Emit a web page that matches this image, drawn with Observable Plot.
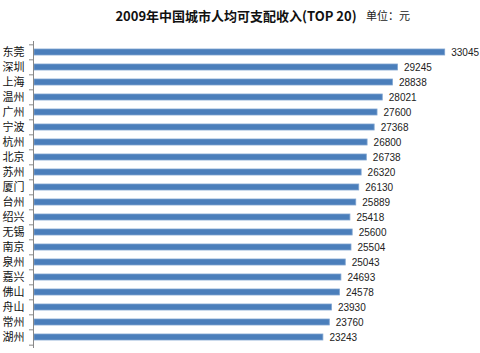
<!DOCTYPE html>
<html>
<head>
<meta charset="utf-8">
<script src="https://cdn.jsdelivr.net/npm/d3@7"></script>
<script src="https://cdn.jsdelivr.net/npm/@observablehq/plot@0.6"></script>
<style>
  body { margin: 0; background: #fff; }
  #wrap { position: relative; width: 480px; height: 353px; overflow: hidden; }
  #title { position: absolute; left: 0; width: 480px; top: 7px; text-align: center; padding-right: 8px; box-sizing: border-box; font-family: "Noto Sans CJK SC", sans-serif; font-weight: bold; font-size: 13px; line-height: 18px; color: #111; }
  #unit { position: absolute; left: 366px; top: 6px; font-family: "Noto Sans CJK SC", sans-serif; font-size: 11px; line-height: 18px; color: #222; }
  #chart { position: absolute; left: 0; top: 0; width: 480px; height: 353px; }
  #chart svg { display: block; }
</style>
</head>
<body>
<div id="wrap">
  <div id="chart"></div>
  <div id="title">2009年中国城市人均可支配收入(TOP 20)</div>
  <div id="unit">单位：元</div>
</div>
<script>
const cities = ["东莞","深圳","上海","温州","广州","宁波","杭州","北京","苏州","厦门","台州","绍兴","无锡","南京","泉州","嘉兴","佛山","舟山","常州","湖州"];
const incomes = [33045,29245,28838,28021,27600,27368,26800,26738,26320,26130,25889,25418,25600,25504,25043,24693,24578,23930,23760,23243];

const data = cities.map((c, i) => ({city: c, value: incomes[i]}));

const chart = Plot.plot({
  width: 480,
  height: 353,
  marginTop: 41,
  marginBottom: 5,
  marginLeft: 34,
  marginRight: 11,
  x: {domain: [0, 35000], axis: null},
  y: {domain: cities, paddingInner: 0.6, paddingOuter: 0.3, axis: null},
  style: {fontFamily: "Liberation Sans, Noto Sans CJK SC, sans-serif", background: "#fff", overflow: "visible"},
  marks: [
    Plot.barX(data, {x: "value", y: "city", fill: "#4a7ebb", stroke: "#7ea3d0", strokeWidth: 0.8}),
    Plot.ruleX([0], {stroke: "#888", strokeWidth: 1, dx: -1}),
    Plot.ruleY(cities, {y: d => d, x1: 0, x2: 0, insetLeft: -4, dx: -1, dy: -7.67, stroke: "#888"}),
    Plot.ruleY([cities[cities.length - 1]], {y: d => d, x1: 0, x2: 0, insetLeft: -4, dx: -1, dy: 7.67, stroke: "#888"}),
    Plot.axisY({domain: cities, tickSize: 0, tickPadding: 10, label: null, fontSize: 11, fill: "#111", fontFamily: "Noto Sans CJK SC, sans-serif"}),
    Plot.text(data, {x: "value", y: "city", text: d => String(d.value), textAnchor: "start", dx: 6, fontSize: 10, fill: "#222"})
  ]
});
document.getElementById("chart").appendChild(chart);
</script>
</body>
</html>
